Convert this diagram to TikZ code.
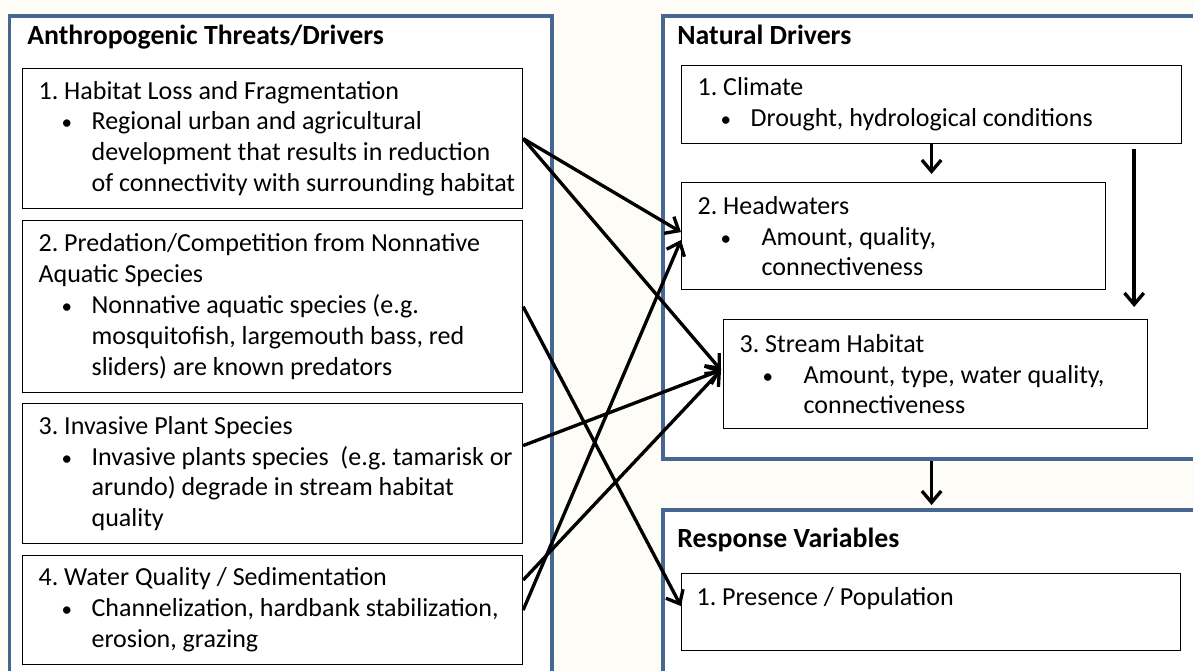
\documentclass[tikz,border=0pt]{standalone}
\usepackage{fontspec}
\setmainfont{Carlito}
\usetikzlibrary{arrows.meta,calc}
\definecolor{framebl}{RGB}{72,102,146}
\definecolor{paper}{RGB}{254,252,246}
\frenchspacing
\newcommand{\hd}[1]{\mbox{\hspace*{0.32cm}#1}}
\newcommand{\bul}[2][0.6cm]{\mbox{\hspace*{0.78cm}\makebox[#1][l]{{\fontsize{12}{12}\selectfont\textbullet}}#2}}
\newcommand{\ind}[2][1.38cm]{\mbox{\hspace*{#1}#2}}

\begin{document}
\begin{tikzpicture}[x=0.02cm, y=-0.02cm,
    frame/.style={rectangle, draw=framebl, line width=2.2pt, fill=white, anchor=north west, inner sep=0pt},
    box/.style={rectangle, draw=black, line width=0.7pt, fill=white, anchor=north west,
                inner xsep=0pt, inner ysep=0pt, align=flush left, font=\fontsize{14.8}{17.6}\selectfont},
    title/.style={anchor=base west, inner sep=0pt, font=\fontsize{15.8}{18}\selectfont\bfseries},
    arr/.style={line width=1.9pt, -{Straight Barb[length=6.5pt,width=11pt]}}
]
    \useasboundingbox (0,0) rectangle (1193,671);
    \clip (0,0) rectangle (1193,671);
    \fill[paper] (0,0) rectangle (1193,671);

    % the three panels
    \node[frame, minimum width=10.85cm, minimum height=14.2cm] (anthro) at (7.5,14) {};
    \node[frame, minimum width=12cm, minimum height=8.86cm] (nat) at (661,14) {};
    \node[frame, minimum width=12cm, minimum height=4.3cm] (resp) at (661,508) {};

    \node[title] (anthroT) at (27,45) {Anthropogenic Threats/Drivers};
    \node[title] (natT) at (677,45) {Natural Drivers};
    \node[title] (respT) at (677,548) {Response Variables};

    % anthropogenic drivers
    \node[box, text width=10cm, minimum height=2.8cm] (hab) at (22,68)
        {\hd{1. Habitat Loss and Fragmentation}\\
         \bul{Regional urban and agricultural}\\
         \ind{development that results in reduction}\\
         \ind{of connectivity with surrounding habitat}};
    \node[box, text width=10cm, minimum height=3.44cm] (pred) at (22,220)
        {\hd{2. Predation/Competition from Nonnative}\\
         \hd{Aquatic Species}\\
         \bul{Nonnative aquatic species (e.g.}\\
         \ind{mosquitofish, largemouth bass, red}\\
         \ind{sliders) are known predators}};
    \node[box, text width=10cm, minimum height=2.8cm] (inv) at (22,403)
        {\hd{3. Invasive Plant Species}\\
         \bul{Invasive plants species~ (e.g. tamarisk or}\\
         \ind{arundo) degrade in stream habitat}\\
         \ind{quality}};
    \node[box, text width=10cm, minimum height=2.18cm] (wq) at (22,555)
        {\hd{4. Water Quality / Sedimentation}\\
         \bul{Channelization, hardbank stabilization,}\\
         \ind{erosion, grazing}};

    % natural drivers
    \node[box, text width=10cm, minimum height=1.56cm] (clim) at (681,65)
        {\hd{1. Climate}\\
         \bul{Drought, hydrological conditions}};
    \node[box, text width=8.48cm, minimum height=2.14cm] (head) at (681,182)
        {\hd{2. Headwaters}\\
         \bul[0.82cm]{Amount, quality,}\\
         \ind[1.6cm]{connectiveness}};
    \node[box, text width=8.48cm, minimum height=2.18cm] (strm) at (723,319)
        {\hd{3. Stream Habitat}\\
         \bul[0.82cm]{Amount, type, water quality,}\\
         \ind[1.6cm]{connectiveness}};

    % response
    \node[box, text width=9.98cm, minimum height=1.54cm] (pres) at (681,573)
        {\mbox{\hspace*{0.3cm}1. Presence / Population}\\ \mbox{}};

    % links inside the right panels
    \coordinate (lng) at ($(strm.north east)+(-14,0)$);
    \draw[arr, shorten >=0.16cm] (clim.south) -- (clim.south |- head.north);
    \draw[arr, shorten <=0.1cm, shorten >=0.24cm] (lng |- clim.south) -- (lng);
    \draw[arr, shorten >=0.06cm] (clim.south |- nat.south) -- (clim.south |- resp.north);

    % links from the threats
    \draw[arr] (hab.east) -- ($(head.west)+(0,-4)$);
    \draw[arr] (hab.east) -- ($(strm.west)+(-2,-4)$);
    \draw[arr] (pred.east) -- ($(pres.west)+(0,-6)$);
    \draw[arr] ($(inv.east)+(0,-28)$) -- ($(strm.west)+(-2,-4)$);
    \draw[arr] ($(wq.east)+(0,-30)$) -- ($(strm.west)+(-2,-4)$);
    \draw[arr] (wq.east) -- ($(head.west)+(0,4)$);
\end{tikzpicture}
\end{document}
